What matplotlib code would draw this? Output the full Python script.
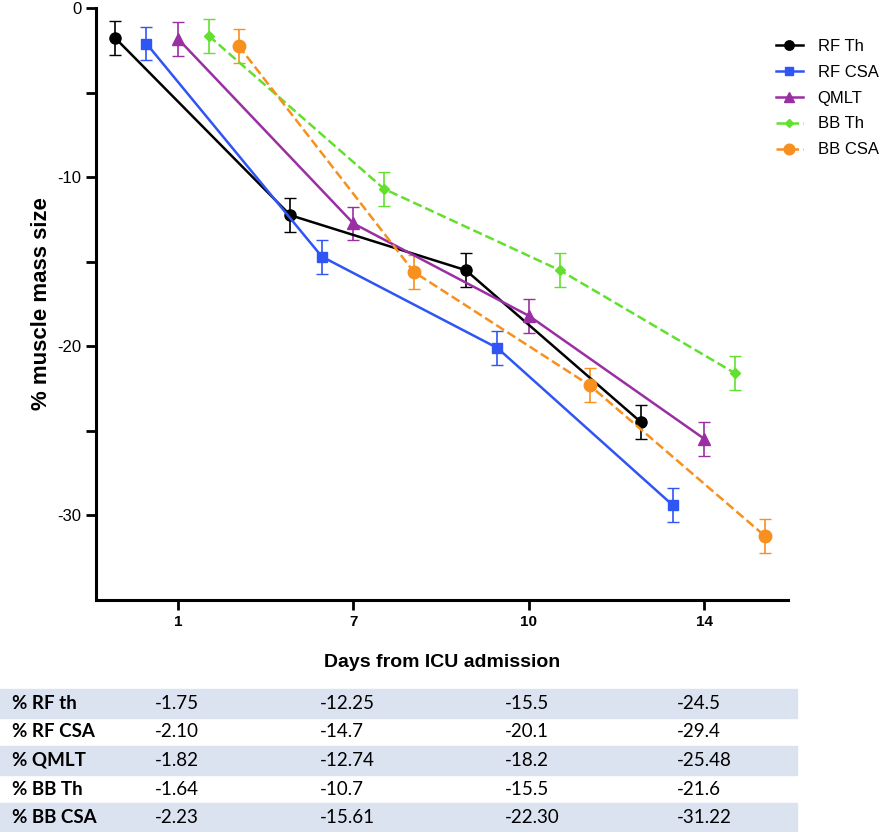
import matplotlib
matplotlib.use('Agg')
import matplotlib.pyplot as plt
from matplotlib.patches import Rectangle
from matplotlib.lines import Line2D
import numpy as np

plt.rcParams['font.family'] = ['Liberation Sans', 'DejaVu Sans']

# data
days = ['1', '7', '10', '14']
series_names = ['RF Th', 'RF CSA', 'QMLT', 'BB Th', 'BB CSA']
rf_th = [-1.75, -12.25, -15.5, -24.5]
rf_csa = [-2.10, -14.7, -20.1, -29.4]
qmlt = [-1.82, -12.74, -18.2, -25.48]
bb_th = [-1.64, -10.7, -15.5, -21.6]
bb_csa = [-2.23, -15.61, -22.30, -31.22]
err = 1.0

table_labels = ['% RF th', '% RF CSA', '% QMLT', '% BB Th', '% BB CSA']
table_text = [
    ['-1.75', '-12.25', '-15.5', '-24.5'],
    ['-2.10', '-14.7', '-20.1', '-29.4'],
    ['-1.82', '-12.74', '-18.2', '-25.48'],
    ['-1.64', '-10.7', '-15.5', '-21.6'],
    ['-2.23', '-15.61', '-22.30', '-31.22'],
]

W, H = 892, 832
fig = plt.figure(figsize=(W / 100, H / 100), dpi=100)
ax = fig.add_axes([96 / W, 1 - 600 / H, (788 - 96) / W, (600 - 8) / H])

styles = [
    dict(color='black', marker='o', ms=8, ls='-', off=-0.36),
    dict(color='#2f55f5', marker='s', ms=6.5, ls='-', off=-0.18),
    dict(color='#9a2fa3', marker='^', ms=8, ls='-', off=0.0),
    dict(color='#62e02e', marker='D', ms=5, ls='--', off=0.175),
    dict(color='#f7901e', marker='o', ms=9, ls='--', off=0.345),
]
all_data = [rf_th, rf_csa, qmlt, bb_th, bb_csa]
x = np.arange(len(days))

handles = []
for name, ys, st in zip(series_names, all_data, styles):
    ax.errorbar(x + st['off'], ys, yerr=err, color=st['color'], marker=st['marker'],
                ms=st['ms'], ls=st['ls'], lw=1.8, capsize=4, elinewidth=1.2,
                ecolor=st['color'])
    handles.append(Line2D([], [], color=st['color'], marker=st['marker'], ms=st['ms'] * 0.85,
                          ls=st['ls'], lw=1.8, label=name))

ax.set_xlim(-0.467, 3.476)
ax.set_ylim(-35, 0)
ax.set_xticks(x)
ax.set_xticklabels(days, fontweight='bold', fontsize=11)
ax.set_yticks([0, -10, -20, -30])
ax.set_yticklabels(['0', '-10', '-20', '-30'], fontsize=12)
ax.set_yticks([-5, -15, -25], minor=True)
ax.tick_params(axis='both', which='both', width=2, length=7)
for s in ['top', 'right']:
    ax.spines[s].set_visible(False)
for s in ['left', 'bottom']:
    ax.spines[s].set_linewidth(2.2)
ax.set_xlabel('Days from ICU admission', fontsize=14, fontweight='bold', labelpad=18)
ax.set_ylabel('% muscle mass size', fontsize=16, fontweight='bold', labelpad=4)

fig.legend(handles=handles, loc='upper left', bbox_to_anchor=(776 / W, 1 - 39 / H),
           frameon=False, fontsize=12, handlelength=1.6, handletextpad=0.9,
           labelspacing=0.65, borderpad=0, borderaxespad=0)

# table below chart
row_top = 689
row_h = 28.6
col_x = [155, 320, 505, 677]
for i, (lab, vals) in enumerate(zip(table_labels, table_text)):
    y0 = row_top + i * row_h
    if i % 2 == 0:
        fig.patches.append(Rectangle((0, 1 - (y0 + row_h) / H), 797 / W, row_h / H,
                                     transform=fig.transFigure, color='#dbe2f0', zorder=0))
    yc = 1 - (y0 + row_h / 2) / H
    fig.text(12 / W, yc, lab, fontsize=13.5, fontweight='bold', va='center',
             family=['Lato', 'DejaVu Sans'])
    for cx, v in zip(col_x, vals):
        fig.text(cx / W, yc, v, fontsize=13.5, va='center', family=['Lato', 'DejaVu Sans'])

fig.savefig('out.png', dpi=100)
